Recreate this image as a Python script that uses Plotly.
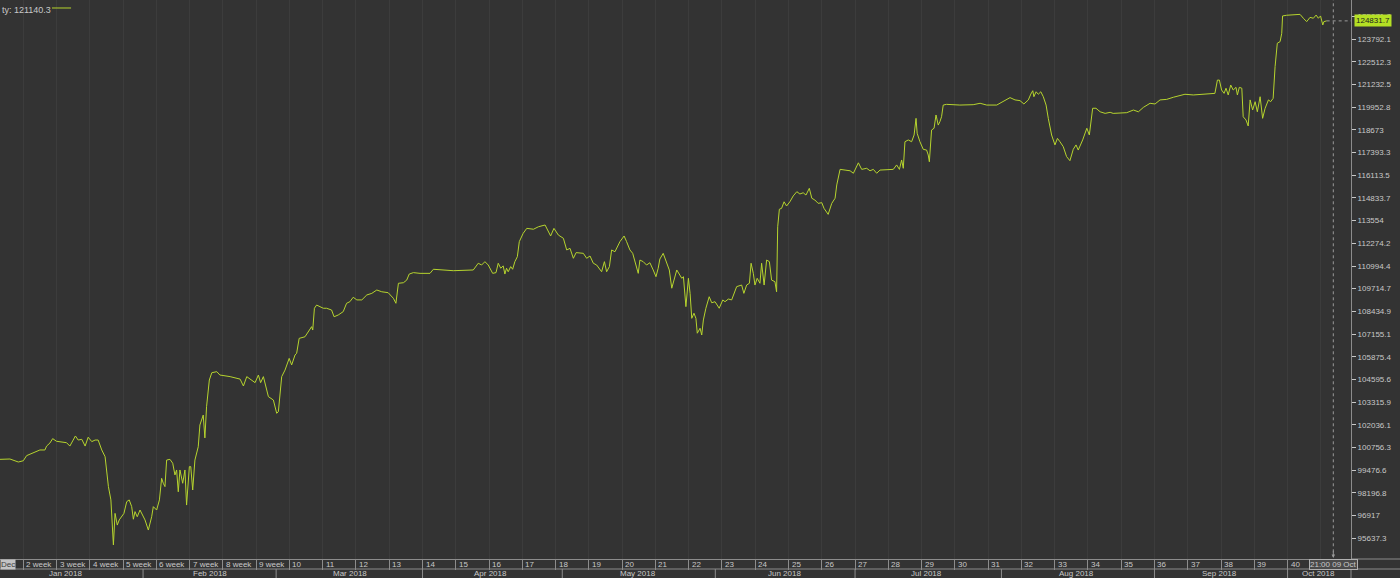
import plotly.graph_objects as go

# equity curve (hourly-ish samples)
DATES = [
    "2018-01-02 12:00", "2018-01-04 00:00", "2018-01-05 06:00", "2018-01-08 00:00", "2018-01-08 12:00",
    "2018-01-09 11:00", "2018-01-10 12:00", "2018-01-11 06:00", "2018-01-11 12:00", "2018-01-12 00:00",
    "2018-01-12 10:00", "2018-01-15 00:00", "2018-01-16 12:00", "2018-01-17 00:00", "2018-01-17 10:00",
    "2018-01-17 20:00", "2018-01-18 06:00", "2018-01-18 19:00", "2018-01-19 07:00", "2018-01-19 18:00",
    "2018-01-22 07:00", "2018-01-22 19:00", "2018-01-23 06:00", "2018-01-23 19:00", "2018-01-24 07:00",
    "2018-01-24 19:00", "2018-01-25 04:00", "2018-01-25 10:00", "2018-01-25 13:00", "2018-01-25 19:00",
    "2018-01-26 03:00", "2018-01-26 10:00", "2018-01-26 19:00", "2018-01-29 03:00", "2018-01-29 13:00",
    "2018-01-29 22:00", "2018-01-30 07:00", "2018-01-30 13:00", "2018-01-30 19:00", "2018-01-31 03:00",
    "2018-01-31 13:00", "2018-02-01 01:00", "2018-02-01 07:00", "2018-02-01 19:00", "2018-02-02 07:00",
    "2018-02-02 13:00", "2018-02-05 01:00", "2018-02-05 11:00", "2018-02-05 19:00", "2018-02-06 01:00",
    "2018-02-06 07:00", "2018-02-06 13:00", "2018-02-07 01:00", "2018-02-07 11:00", "2018-02-07 19:00",
    "2018-02-08 01:00", "2018-02-08 07:00", "2018-02-08 13:00", "2018-02-08 23:00", "2018-02-09 07:00",
    "2018-02-09 13:00", "2018-02-09 23:00", "2018-02-12 04:00", "2018-02-12 11:00", "2018-02-12 19:00",
    "2018-02-13 07:00", "2018-02-13 13:00", "2018-02-14 01:00", "2018-02-14 07:00", "2018-02-14 13:00",
    "2018-02-14 23:00", "2018-02-15 08:00", "2018-02-16 02:00", "2018-02-16 13:00", "2018-02-20 02:00",
    "2018-02-21 14:00", "2018-02-22 02:00", "2018-02-22 14:00", "2018-02-23 08:00", "2018-02-23 20:00",
    "2018-02-26 08:00", "2018-02-26 16:00", "2018-02-27 02:00", "2018-02-27 11:00", "2018-02-27 20:00",
    "2018-02-28 14:00", "2018-03-01 02:00", "2018-03-01 08:00", "2018-03-01 20:00", "2018-03-02 08:00",
    "2018-03-02 23:00", "2018-03-05 08:00", "2018-03-05 20:00", "2018-03-06 02:00", "2018-03-06 11:00",
    "2018-03-07 08:00", "2018-03-07 20:00", "2018-03-08 08:00", "2018-03-08 12:00", "2018-03-08 18:00",
    "2018-03-09 02:00", "2018-03-09 14:00", "2018-03-12 02:00", "2018-03-12 14:00", "2018-03-13 08:00",
    "2018-03-13 17:00", "2018-03-14 08:00", "2018-03-15 02:00", "2018-03-15 14:00", "2018-03-16 02:00",
    "2018-03-16 14:00", "2018-03-19 03:00", "2018-03-19 21:00", "2018-03-20 15:00", "2018-03-21 09:00",
    "2018-03-22 03:00", "2018-03-22 21:00", "2018-03-23 20:00", "2018-03-26 15:00", "2018-03-27 00:00",
    "2018-03-27 09:00", "2018-03-28 03:00", "2018-03-28 15:00", "2018-03-29 00:00", "2018-03-29 15:00",
    "2018-03-30 15:00", "2018-04-02 15:00", "2018-04-03 03:00", "2018-04-03 15:00", "2018-04-04 15:00",
    "2018-04-06 15:00", "2018-04-11 15:00", "2018-04-12 09:00", "2018-04-12 21:00", "2018-04-13 09:00",
    "2018-04-13 21:00", "2018-04-16 13:00", "2018-04-17 01:00", "2018-04-17 09:00", "2018-04-17 18:00",
    "2018-04-18 03:00", "2018-04-18 09:00", "2018-04-18 15:00", "2018-04-18 21:00", "2018-04-19 06:00",
    "2018-04-19 13:00", "2018-04-19 21:00", "2018-04-20 06:00", "2018-04-20 13:00", "2018-04-23 03:00",
    "2018-04-23 16:00", "2018-04-24 16:00", "2018-04-25 10:00", "2018-04-26 10:00", "2018-04-26 22:00",
    "2018-04-27 06:00", "2018-04-27 18:00", "2018-04-30 10:00", "2018-05-01 04:00", "2018-05-01 16:00",
    "2018-05-02 04:00", "2018-05-02 16:00", "2018-05-03 02:00", "2018-05-03 16:00", "2018-05-04 04:00",
    "2018-05-04 16:00", "2018-05-07 04:00", "2018-05-07 16:00", "2018-05-08 04:00", "2018-05-08 22:00",
    "2018-05-09 08:00", "2018-05-09 16:00", "2018-05-10 02:00", "2018-05-10 10:00", "2018-05-10 22:00",
    "2018-05-11 16:00", "2018-05-14 07:00", "2018-05-14 16:00", "2018-05-15 04:00", "2018-05-15 14:00",
    "2018-05-15 22:00", "2018-05-16 10:00", "2018-05-16 16:00", "2018-05-17 04:00", "2018-05-17 16:00",
    "2018-05-18 04:00", "2018-05-18 16:00", "2018-05-21 02:00", "2018-05-21 10:00", "2018-05-21 16:00",
    "2018-05-22 04:00", "2018-05-22 17:00", "2018-05-23 02:00", "2018-05-23 11:00", "2018-05-24 05:00",
    "2018-05-24 23:00", "2018-05-25 05:00", "2018-05-25 14:00", "2018-05-25 23:00", "2018-05-28 05:00",
    "2018-05-28 11:00", "2018-05-28 19:00", "2018-05-29 02:00", "2018-05-29 07:00", "2018-05-29 17:00",
    "2018-05-29 23:00", "2018-05-30 05:00", "2018-05-30 14:00", "2018-05-31 02:00", "2018-05-31 11:00",
    "2018-05-31 23:00", "2018-06-01 14:00", "2018-06-04 03:00", "2018-06-04 11:00", "2018-06-04 23:00",
    "2018-06-05 11:00", "2018-06-06 05:00", "2018-06-06 23:00", "2018-06-07 07:00", "2018-06-07 17:00",
    "2018-06-08 03:00", "2018-06-08 09:00", "2018-06-08 17:00", "2018-06-08 23:00", "2018-06-11 07:00",
    "2018-06-11 17:00", "2018-06-11 23:00", "2018-06-12 08:00", "2018-06-12 17:00", "2018-06-13 03:00",
    "2018-06-13 11:00", "2018-06-13 23:00", "2018-06-14 05:00", "2018-06-14 09:00", "2018-06-14 15:00",
    "2018-06-14 23:00", "2018-06-15 08:00", "2018-06-15 17:00", "2018-06-18 05:00", "2018-06-18 17:00",
    "2018-06-19 06:00", "2018-06-19 17:00", "2018-06-20 05:00", "2018-06-20 15:00", "2018-06-21 03:00",
    "2018-06-21 12:00", "2018-06-21 23:00", "2018-06-22 11:00", "2018-06-25 00:00", "2018-06-25 08:00",
    "2018-06-25 23:00", "2018-06-26 12:00", "2018-06-27 00:00", "2018-06-27 06:00", "2018-06-27 18:00",
    "2018-06-28 12:00", "2018-06-29 06:00", "2018-06-29 18:00", "2018-07-02 12:00", "2018-07-03 00:00",
    "2018-07-03 18:00", "2018-07-04 06:00", "2018-07-04 18:00", "2018-07-05 06:00", "2018-07-05 18:00",
    "2018-07-09 18:00", "2018-07-10 06:00", "2018-07-10 16:00", "2018-07-11 00:00", "2018-07-11 06:00",
    "2018-07-11 12:00", "2018-07-12 00:00", "2018-07-12 12:00", "2018-07-12 21:00", "2018-07-13 04:00",
    "2018-07-13 08:00", "2018-07-13 18:00", "2018-07-16 06:00", "2018-07-16 18:00", "2018-07-17 00:00",
    "2018-07-17 04:00", "2018-07-17 12:00", "2018-07-17 21:00", "2018-07-18 04:00", "2018-07-18 12:00",
    "2018-07-18 18:00", "2018-07-19 00:00", "2018-07-19 06:00", "2018-07-19 18:00", "2018-07-23 18:00",
    "2018-07-25 18:00", "2018-07-26 19:00", "2018-07-27 19:00", "2018-07-31 07:00", "2018-08-01 07:00",
    "2018-08-02 07:00", "2018-08-03 01:00", "2018-08-03 19:00", "2018-08-06 09:00", "2018-08-07 01:00",
    "2018-08-07 10:00", "2018-08-07 17:00", "2018-08-07 21:00", "2018-08-08 05:00", "2018-08-08 13:00",
    "2018-08-08 22:00", "2018-08-09 07:00", "2018-08-09 17:00", "2018-08-10 01:00", "2018-08-10 13:00",
    "2018-08-13 01:00", "2018-08-13 10:00", "2018-08-13 19:00", "2018-08-14 07:00", "2018-08-14 19:00",
    "2018-08-15 07:00", "2018-08-15 19:00", "2018-08-16 05:00", "2018-08-16 13:00", "2018-08-17 05:00",
    "2018-08-17 20:00", "2018-08-20 05:00", "2018-08-20 17:00", "2018-08-21 05:00", "2018-08-21 20:00",
    "2018-08-22 14:00", "2018-08-23 08:00", "2018-08-23 19:00", "2018-08-27 20:00", "2018-08-28 20:00",
    "2018-08-29 14:00", "2018-08-30 08:00", "2018-08-31 08:00", "2018-09-03 02:00", "2018-09-03 20:00",
    "2018-09-04 20:00", "2018-09-05 20:00", "2018-09-07 02:00", "2018-09-07 14:00", "2018-09-10 20:00",
    "2018-09-11 20:00", "2018-09-12 20:00", "2018-09-14 02:00", "2018-09-14 11:00", "2018-09-14 18:00",
    "2018-09-17 02:00", "2018-09-17 11:00", "2018-09-17 18:00", "2018-09-18 02:00", "2018-09-18 11:00",
    "2018-09-18 20:00", "2018-09-19 06:00", "2018-09-19 11:00", "2018-09-19 18:00", "2018-09-20 03:00",
    "2018-09-20 08:00", "2018-09-20 18:00", "2018-09-21 02:00", "2018-09-21 09:00", "2018-09-21 18:00",
    "2018-09-24 03:00", "2018-09-24 11:00", "2018-09-24 21:00", "2018-09-25 06:00", "2018-09-25 15:00",
    "2018-09-26 03:00", "2018-09-26 11:00", "2018-09-26 20:00", "2018-09-27 03:00", "2018-09-27 11:00",
    "2018-09-27 21:00", "2018-09-28 03:00", "2018-09-28 06:00", "2018-09-28 21:00", "2018-10-02 21:00",
    "2018-10-03 09:00", "2018-10-03 21:00", "2018-10-04 09:00", "2018-10-04 21:00", "2018-10-05 07:00",
    "2018-10-05 15:00", "2018-10-05 23:00", "2018-10-08 07:00", "2018-10-08 11:00", "2018-10-08 21:00",
]

EQUITY = [
    100080, 100100, 99930, 100000, 100290, 100440, 100610, 100610, 100830, 101000,
    101250, 101100, 101020, 100830, 101130, 101400, 101170, 101210, 100830, 101330,
    101080, 101170, 101170, 100610, 100230, 98540, 97790, 96280, 95250, 97030,
    96370, 96660, 96840, 97030, 97690, 97790, 97410, 96700, 97130, 96840,
    97220, 96840, 96660, 96090, 96840, 97410, 97220, 97790, 99010, 98730,
    98540, 100040, 100080, 99860, 99200, 99480, 98250, 99480, 98730, 99480,
    97500, 99670, 99670, 98350, 100040, 100790, 102020, 102580, 101290, 103050,
    104560, 104970, 105030, 104840, 104750, 104610, 104220, 104750, 104520, 104410,
    104840, 104410, 104750, 104180, 103620, 103430, 102680, 102770, 104750, 105120,
    105780, 105410, 105970, 106070, 106910, 107000, 107290, 107570, 107380, 108610,
    108790, 108700, 108610, 108610, 108510, 108130, 108230, 108420, 108890, 108980,
    109230, 109080, 109080, 109360, 109450, 109640, 109540, 109490, 109170, 108890,
    110020, 110050, 110200, 110540, 110620, 110580, 110580, 110580, 110810, 110770,
    110730, 110770, 111150, 111050, 111240, 111050, 110580, 110620, 111150, 110870,
    111000, 110540, 110870, 110670, 110960, 110810, 111240, 111520, 112370, 112840,
    113120, 113070, 113210, 113310, 112930, 112690, 113120, 112740, 112560, 111900,
    111990, 111430, 111750, 111710, 111710, 111430, 111560, 111150, 111050, 110670,
    111240, 110670, 110960, 111900, 111800, 112370, 112690, 112370, 111900, 111710,
    111240, 110580, 111330, 111240, 111050, 111180, 110770, 110390, 110870, 111390,
    111710, 111150, 110770, 109740, 110770, 110300, 110390, 108700, 110300, 109450,
    108040, 108330, 108040, 107200, 107480, 107100, 107950, 108610, 109260, 108920,
    108980, 108610, 109080, 108980, 109130, 109080, 109830, 109920, 109450, 109920,
    110020, 111150, 110580, 109920, 110300, 110020, 111150, 109920, 111330, 111240,
    110200, 110110, 109540, 113210, 114200, 114250, 114620, 114380, 114620, 114950,
    115190, 115060, 115130, 115000, 115380, 114820, 114720, 114530, 114570, 114250,
    113910, 114530, 114820, 115570, 116450, 116410, 116370, 116230, 116820, 116450,
    116510, 116370, 116450, 116230, 116410, 116450, 116700, 116450, 116980, 116510,
    118010, 118110, 118010, 118390, 119330, 118490, 118010, 117580, 117540, 117260,
    116880, 118670, 118770, 119520, 118950, 119140, 119420, 120080, 120120, 120080,
    120100, 120180, 120080, 120080, 120270, 120500, 120370, 120330, 120140, 120370,
    120700, 120890, 120550, 120830, 120690, 120830, 120550, 120080, 119330, 118390,
    117830, 118200, 118010, 117730, 117170, 116940, 117580, 117830, 117540, 118110,
    118770, 118390, 119900, 119900, 119700, 119610, 119670, 119610, 119650, 119800,
    119700, 119950, 120180, 120140, 120370, 120400, 120520, 120650, 120690, 120650,
    120690, 120700, 120740, 121490, 121490, 120930, 120740, 121030, 120650, 121210,
    120930, 121080, 120650, 121080, 121030, 119420, 119240, 118900, 120370, 119800,
    120270, 119700, 120550, 119330, 119900, 120370, 120270, 120460, 122250, 123570,
    123660, 124130, 125110, 125150, 125200, 124980, 124790, 125030, 124980, 125160,
    124980, 125110, 124600, 124790, 124831.7,
]

# weekly separators on the time scale (Mondays) and their labels
WEEK_STARTS = [
    "2018-01-08", "2018-01-15", "2018-01-22", "2018-01-29", "2018-02-05", "2018-02-12", "2018-02-19",
    "2018-02-26", "2018-03-05", "2018-03-12", "2018-03-19", "2018-03-26", "2018-04-02", "2018-04-09",
    "2018-04-16", "2018-04-23", "2018-04-30", "2018-05-07", "2018-05-14", "2018-05-21", "2018-05-28",
    "2018-06-04", "2018-06-11", "2018-06-18", "2018-06-25", "2018-07-02", "2018-07-09", "2018-07-16",
    "2018-07-23", "2018-07-30", "2018-08-06", "2018-08-13", "2018-08-20", "2018-08-27", "2018-09-03",
    "2018-09-10", "2018-09-17", "2018-09-24", "2018-10-01", "2018-10-08",
]
WEEK_LABELS = [
    "2 week", "3 week", "4 week", "5 week", "6 week", "7 week", "8 week", "9 week",
    "10", "11", "12", "13", "14", "15", "16", "17", "18", "19", "20", "21", "22", "23", "24",
    "25", "26", "27", "28", "29", "30", "31", "32", "33", "34", "35", "36", "37", "38", "39", "40",
]

MONTH_STARTS = ["2018-02-01", "2018-03-01", "2018-04-02", "2018-05-01", "2018-06-01",
                "2018-07-02", "2018-08-01", "2018-09-03", "2018-10-01"]
MONTH_LABELS = ["Jan 2018", "Feb 2018", "Mar 2018", "Apr 2018", "May 2018",
                "Jun 2018", "Jul 2018", "Aug 2018", "Sep 2018", "Oct 2018"]
MONTH_LABEL_AT = ["2018-01-16 10:00", "2018-02-15 00:00", "2018-03-16 03:00", "2018-04-16 06:00",
                  "2018-05-16 10:00", "2018-06-15 08:00", "2018-07-16 18:00", "2018-08-16 05:00",
                  "2018-09-14 18:00", "2018-10-05 17:00"]

PRICE_TICKS = [95637.3, 96917, 98196.8, 99476.6, 100756.3, 102036.1, 103315.9, 104595.6,
               105875.4, 107155.1, 108434.9, 109714.7, 110994.4, 112274.2, 113554, 114833.7,
               116113.5, 117393.3, 118673, 119952.8, 121232.5, 122512.3, 123792.1, 125071.8]
PRICE_TICK_TEXT = ["95637.3", "96917", "98196.8", "99476.6", "100756.3", "102036.1", "103315.9",
                   "104595.6", "105875.4", "107155.1", "108434.9", "109714.7", "110994.4",
                   "112274.2", "113554", "114833.7", "116113.5", "117393.3", "118673", "119952.8",
                   "121232.5", "122512.3", "123792.1", "125071.8"]

X_RANGE = ["2018-01-02 12:00", "2018-10-12 12:48"]
Y_RANGE = [94455, 126010.5]
CROSSHAIR_TIME = "2018-10-09 21:00"
CROSSHAIR_LABEL = "21:00 09 Oct"
LEGEND_TEXT = "ty: 121140.3"

BG = "#333333"
GRID = "#3c3c3c"
AXIS = "#8c8c8c"
TEXT = "#c8c8c8"
LINE = "#b6d42e"
FONT = "Liberation Sans"

# strip below the plot: week row then month row (paper units, plot height 559px)
WEEK_ROW_Y = -0.0098
ROW_SPLIT_Y = -0.0179
MONTH_ROW_Y = -0.026
STRIP_BOTTOM = -0.034

fig = go.Figure()
fig.add_trace(go.Scatter(x=DATES, y=EQUITY, mode="lines",
                         line=dict(color=LINE, width=1), showlegend=False, hoverinfo="skip"))

fig.update_layout(
    width=1400, height=578,
    margin=dict(l=0, r=49, t=0, b=19, pad=0, autoexpand=False),
    paper_bgcolor=BG, plot_bgcolor=BG,
    font=dict(family=FONT, size=8, color=TEXT),
    showlegend=False,
)
fig.update_xaxes(
    type="date", range=X_RANGE,
    rangebreaks=[dict(bounds=["sat", "mon"])],
    tickmode="array", tickvals=WEEK_STARTS, showticklabels=False,
    ticks="outside", ticklen=10, tickcolor=AXIS, tickwidth=1,
    showgrid=True, gridcolor=GRID, gridwidth=1,
    showline=True, linecolor=AXIS, linewidth=1, zeroline=False,
)
fig.update_yaxes(
    side="right", range=Y_RANGE,
    tickmode="array", tickvals=PRICE_TICKS, ticktext=PRICE_TICK_TEXT,
    ticks="outside", ticklen=4, tickcolor=TEXT,
    tickfont=dict(family=FONT, size=8, color=TEXT),
    showgrid=False, zeroline=False,
    showline=True, linecolor=AXIS, linewidth=1,
)

annotations = []
shapes = []

# week labels sit just right of each separator
for day, label in zip(WEEK_STARTS, WEEK_LABELS):
    annotations.append(dict(x=day, y=WEEK_ROW_Y, xref="x", yref="paper", text=label,
                            xanchor="left", yanchor="middle", xshift=1, showarrow=False,
                            font=dict(size=8, color=TEXT)))
annotations.append(dict(x=0, y=WEEK_ROW_Y, xref="paper", yref="paper", text="Dec",
                        xanchor="left", yanchor="middle", showarrow=False, bgcolor="#c4c4c4",
                        borderpad=0, font=dict(size=8, color="#404040")))

# month row
shapes.append(dict(type="line", xref="paper", yref="paper", x0=0, x1=1.04, y0=ROW_SPLIT_Y, y1=ROW_SPLIT_Y,
                   line=dict(color=AXIS, width=1)))
shapes.append(dict(type="line", xref="paper", yref="paper", x0=1, x1=1, y0=STRIP_BOTTOM, y1=0,
                   line=dict(color=AXIS, width=1)))
shapes.append(dict(type="line", xref="paper", yref="paper", x0=1, x1=1.04, y0=0, y1=0,
                   line=dict(color=AXIS, width=1)))
for day in MONTH_STARTS:
    shapes.append(dict(type="line", xref="x", yref="paper", x0=day, x1=day,
                       y0=STRIP_BOTTOM, y1=ROW_SPLIT_Y, line=dict(color=AXIS, width=1)))
for day, label in zip(MONTH_LABEL_AT, MONTH_LABELS):
    annotations.append(dict(x=day, y=MONTH_ROW_Y, xref="x", yref="paper", text=label,
                            xanchor="center", yanchor="middle", showarrow=False,
                            font=dict(size=8, color=TEXT)))

# crosshair on the last bar
shapes.append(dict(type="line", xref="x", yref="paper", x0=CROSSHAIR_TIME, x1=CROSSHAIR_TIME,
                   y0=0.012, y1=1, line=dict(color="#9a9a9a", width=1, dash="dot")))
annotations.append(dict(x=CROSSHAIR_TIME, y=0.002, xref="x", yref="paper", text="",
                        showarrow=True, arrowhead=2, arrowsize=0.7, arrowwidth=1,
                        arrowcolor="#9a9a9a", ax=0, ay=-8))
annotations.append(dict(x=CROSSHAIR_TIME, y=WEEK_ROW_Y, xref="x", yref="paper", text=CROSSHAIR_LABEL,
                        xanchor="center", yanchor="middle", showarrow=False, bgcolor="#4a4a4a",
                        bordercolor="#b0b0b0", borderwidth=1, borderpad=0,
                        font=dict(size=8, color=TEXT)))

# last value marker on the price scale
shapes.append(dict(type="line", xref="x", yref="y", x0=DATES[-1], x1=X_RANGE[1],
                   y0=EQUITY[-1], y1=EQUITY[-1], line=dict(color="#9a9a9a", width=1, dash="dot")))
annotations.append(dict(x=1, y=EQUITY[-1], xref="paper", yref="y", text="%.1f" % EQUITY[-1],
                        xanchor="left", yanchor="middle", xshift=3, showarrow=False,
                        bgcolor="#b4e024", borderpad=1, font=dict(size=8, color="#1e1e1e")))

# legend in the top-left corner
annotations.append(dict(x=0, y=1, xref="paper", yref="paper", text=LEGEND_TEXT,
                        xanchor="left", yanchor="top", yshift=-3, showarrow=False,
                        font=dict(size=9, color=TEXT)))
shapes.append(dict(type="line", xref="paper", yref="paper", x0=0.0385, x1=0.0526, y0=0.9857, y1=0.9857,
                   line=dict(color=LINE, width=1)))

fig.update_layout(annotations=annotations, shapes=shapes)

# page body has a default 8px margin which would shift the whole chart
fig.write_html("out.html", config={"displayModeBar": False},
               post_script="document.body.style.margin='0';")
